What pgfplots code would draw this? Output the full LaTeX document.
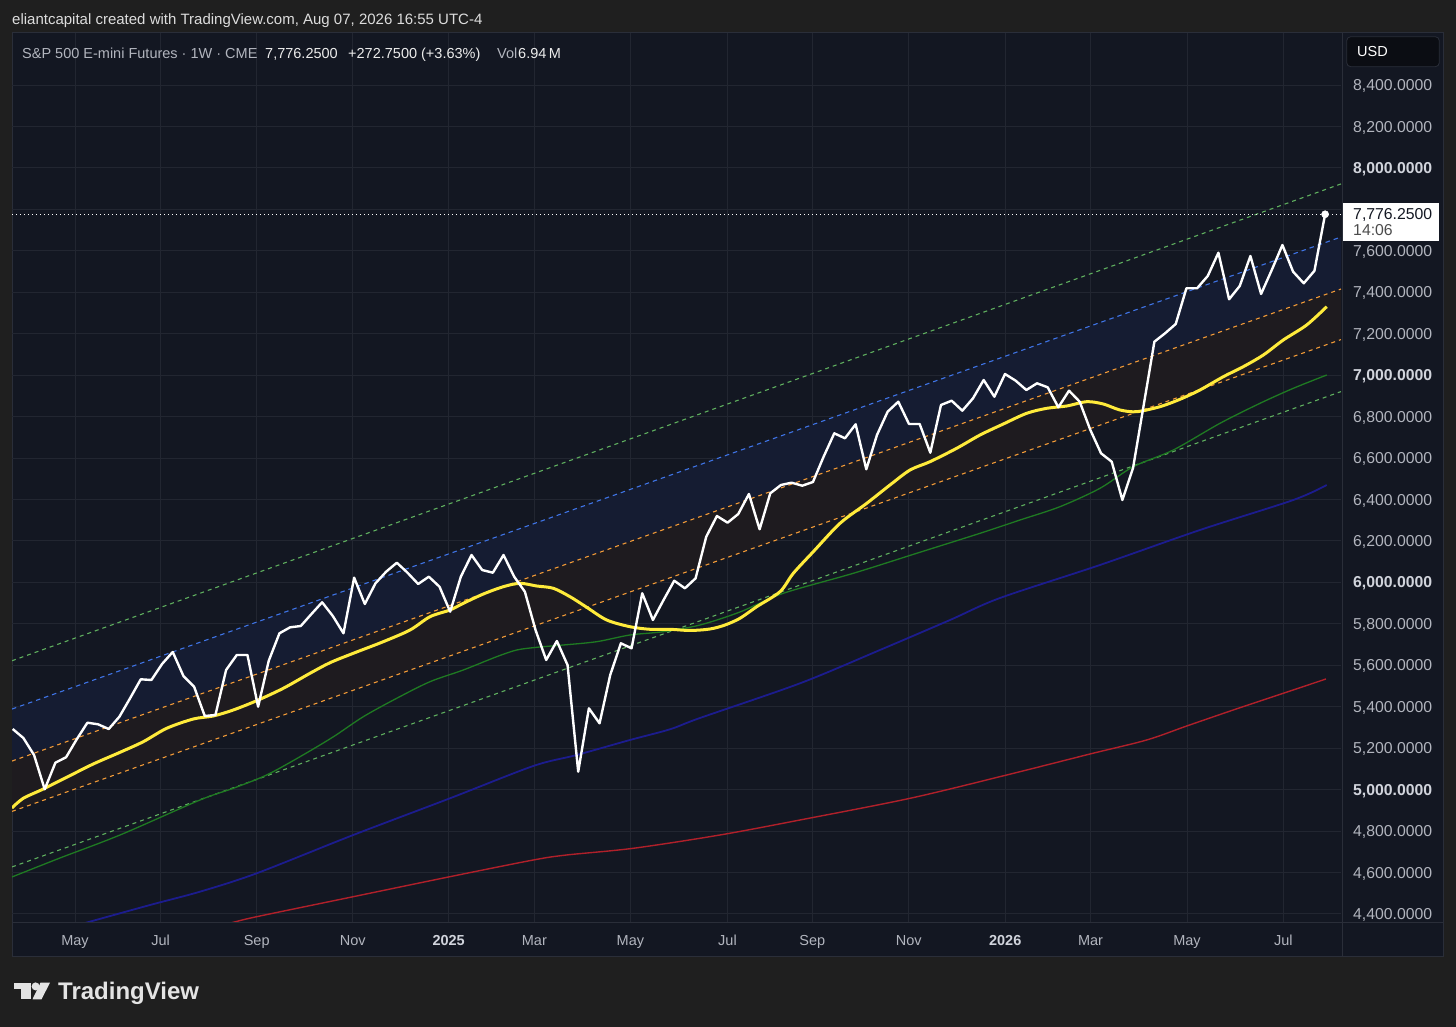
\documentclass[border=0pt]{standalone}
\usepackage{pgfplots}
\pgfplotsset{compat=1.18}
\usepackage{pgfplotstable}
\usepackage{fontspec}
\setmainfont{Liberation Sans}
\definecolor{outerbg}{HTML}{1F1F1F}
\definecolor{panel}{HTML}{131722}
\definecolor{sep}{HTML}{2A2E39}
\definecolor{gridc}{HTML}{222631}
\definecolor{txt}{HTML}{B2B5BE}
\definecolor{txtb}{HTML}{D1D4DC}
\definecolor{hdr}{HTML}{DDDDDD}
\definecolor{valc}{HTML}{ECECEC}
\definecolor{bluefill}{HTML}{151C32}
\definecolor{orfill}{HTML}{1E1B1F}
\definecolor{gdash}{HTML}{5FAF5F}
\definecolor{bdash}{HTML}{3F74E6}
\definecolor{odash}{HTML}{F29B38}
\definecolor{maA}{HTML}{FFEB3B}
\definecolor{maB}{HTML}{1F7A22}
\definecolor{maC}{HTML}{1C1C8E}
\definecolor{maD}{HTML}{B0202A}
\definecolor{logo}{HTML}{E4E4E4}
\definecolor{usdbg}{HTML}{0B0D13}

\pgfplotstableread{
i v
0 5292.6
1 5249.2
2 5167.2
3 5001.7
4 5130.0
5 5156.1
6 5242.9
7 5323.0
8 5315.3
9 5292.6
10 5352.0
11 5440.8
12 5532.4
13 5529.1
14 5606.3
15 5664.2
16 5548.4
17 5496.7
18 5355.4
19 5360.2
20 5577.3
21 5649.7
22 5649.7
23 5400.2
24 5622.2
25 5754.4
26 5783.3
27 5789.6
28 5847.5
29 5904.0
30 5837.9
31 5754.4
32 6022.7
33 5895.8
34 5995.6
35 6051.6
36 6095.0
37 6046.8
38 5992.3
39 6027.5
40 5979.2
41 5858.6
42 6027.5
43 6132.2
44 6059.8
45 6046.8
46 6132.2
47 6027.5
48 5955.1
49 5770.3
50 5625.6
51 5717.2
52 5601.4
53 5086.6
54 5392.5
55 5320.1
56 5553.2
57 5706.1
58 5682.0
59 5947.4
60 5818.6
61 5915.1
62 6008.2
63 5971.5
64 6019.8
65 6220.5
66 6320.4
67 6288.1
68 6330.0
69 6426.5
70 6256.2
71 6429.9
72 6470.0
73 6481.1
74 6466.6
75 6484.4
76 6606.5
77 6719.4
78 6695.3
79 6762.8
80 6545.7
81 6711.2
82 6823.6
83 6871.9
84 6764.3
85 6764.3
86 6625.8
87 6856.0
88 6876.7
89 6828.5
90 6888.3
91 6976.6
92 6896.0
93 7005.5
94 6973.2
95 6928.3
96 6960.7
97 6941.4
98 6844.9
99 6925.0
100 6871.9
101 6735.3
102 6622.9
103 6582.4
104 6397.6
105 6552.0
106 6856.0
107 7161.4
108 7201.9
109 7246.8
110 7419.1
111 7419.1
112 7478.4
113 7590.8
114 7366.0
115 7430.2
116 7574.9
117 7391.6
118 7507.4
119 7628.0
120 7499.2
121 7443.2
122 7503.5
123 7776.25
}\price

\pgfplotstableread{
i v
-0.07 4911.5
0.99 4958.2
2.81 5001.7
5.06 5059.6
7.55 5123.8
10.06 5180.2
12.24 5231.4
14.43 5296.0
16.93 5340.9
18.80 5355.4
20.67 5384.3
22.87 5429.2
25.36 5489.0
27.86 5561.4
29.74 5612.5
31.92 5657.9
34.73 5713.9
37.24 5770.3
39.11 5834.5
40.98 5866.8
42.23 5899.1
44.11 5944.0
45.98 5979.2
47.54 5995.6
49.11 5982.6
50.67 5971.5
52.23 5931.0
53.80 5879.8
55.67 5818.6
57.85 5786.2
59.73 5773.7
61.60 5773.7
63.48 5767.9
65.35 5775.1
66.76 5794.4
68.16 5826.8
69.73 5882.7
71.91 5955.1
73.16 6043.9
75.03 6148.1
77.54 6285.2
80.04 6381.6
82.22 6470.0
84.10 6542.3
85.97 6582.4
88.47 6647.0
90.66 6711.2
92.84 6764.3
95.03 6815.9
96.91 6840.0
98.78 6851.1
100.66 6871.9
102.21 6860.8
103.78 6831.8
105.34 6823.6
107.52 6847.8
109.40 6883.5
111.27 6928.3
113.46 6992.5
115.33 7040.8
117.21 7097.2
119.08 7169.6
121.27 7242.0
123.15 7330.3
}\maA

\pgfplotstableread{
i v
-0.07 4578.5
4.43 4670.2
10.06 4781.2
17.55 4950.0
20.67 5006.5
23.80 5070.7
26.93 5159.0
30.02 5254.0
32.86 5352.0
35.99 5440.8
39.11 5520.9
42.23 5577.3
45.36 5641.5
47.24 5673.8
49.11 5686.8
51.60 5697.9
54.73 5713.9
57.85 5746.2
60.97 5762.1
64.41 5794.4
68.16 5857.2
72.22 5947.4
78.78 6043.9
84.72 6140.4
90.66 6236.9
94.41 6301.1
98.15 6365.3
101.90 6454.0
105.02 6558.3
108.77 6638.8
113.15 6767.7
116.90 6864.2
120.02 6936.5
123.15 7000.7
}\maB

\pgfplotstableread{
i v
4.43 4322.8
6.79 4356.6
12.87 4443.4
17.55 4507.6
22.87 4596.4
31.92 4781.2
40.98 4958.2
48.79 5114.1
52.86 5167.2
57.85 5239.6
61.60 5291.2
64.41 5345.7
73.79 5513.1
81.28 5673.8
87.85 5818.6
92.53 5924.7
101.90 6084.0
111.27 6252.8
120.02 6397.6
123.15 6470.0
}\maC

\pgfplotstableread{
i v
17.55 4322.8
20.52 4358.0
22.87 4387.0
31.92 4483.5
40.98 4580.0
48.79 4660.5
51.92 4684.7
58.16 4717.0
66.29 4781.2
73.79 4853.6
84.10 4958.2
93.16 5070.7
100.97 5172.0
106.28 5239.6
110.03 5307.1
114.39 5384.3
119.08 5464.9
123.08 5533.9
}\maD

\begin{document}
\begin{tikzpicture}[x=1pt,y=1pt]
\fill[outerbg] (0,0) rectangle (1456,1027);
\filldraw[fill=panel, draw=sep, line width=1pt] (12,70.3) rectangle (1443,994);
\begin{axis}[
  at={(12pt,104.3pt)}, anchor=south west,
  scale only axis, width=1329pt, height=889.7pt,
  xmin=-0.066, xmax=124.49, ymin=4358, ymax=8651,
  axis line style={draw=none},
  tick style={draw=none}, major tick length=0pt,
  grid=major, major grid style={gridc, line width=1pt},
  xtick={5.84,13.87,22.87,31.87,40.86,48.89,57.89,66.99,74.94,83.98,93.02,101.02,110.06,119.09},
  xticklabels={May,Jul,Sep,Nov,{\textbf{\color{txtb}2025}},Mar,May,Jul,Sep,Nov,{\textbf{\color{txtb}2026}},Mar,May,Jul},
  xticklabel style={font=\fontsize{14.5}{17}\selectfont, text=txt, anchor=base, inner sep=0pt, yshift=-22.8pt},
  ytick={4400,4600,...,8400},
  yticklabels={{4,400.0000},{4,600.0000},{4,800.0000},{\textbf{\color{txtb}5,000.0000}},{5,200.0000},{5,400.0000},{5,600.0000},{5,800.0000},{\textbf{\color{txtb}6,000.0000}},{6,200.0000},{6,400.0000},{6,600.0000},{6,800.0000},{\textbf{\color{txtb}7,000.0000}},{7,200.0000},{7,400.0000},{7,600.0000},{},{\textbf{\color{txtb}8,000.0000}},{8,200.0000},{8,400.0000}},
  yticklabel pos=right,
  yticklabel style={font=\fontsize{15.8}{18}\selectfont, text=txt, anchor=base west, inner sep=0pt, xshift=12pt, yshift=-5.6pt},
]
% channel fills
\addplot[fill=bluefill, draw=none] coordinates {(-0.066,5389) (124.49,7666.7) (124.49,7415.7) (-0.066,5138)} -- cycle;
\addplot[fill=orfill, draw=none] coordinates {(-0.066,5138) (124.49,7415.7) (124.49,7171.7) (-0.066,4895)} -- cycle;
% channel lines
\addplot[gdash, line width=1.1pt, dash pattern=on 4pt off 4pt] coordinates {(-0.066,5622) (124.49,7922.7)};
\addplot[bdash, line width=1.1pt, dash pattern=on 4.5pt off 4pt] coordinates {(-0.066,5389) (124.49,7666.7)};
\addplot[odash, line width=1.1pt, dash pattern=on 4pt off 4pt] coordinates {(-0.066,5138) (124.49,7415.7)};
\addplot[odash, line width=1.1pt, dash pattern=on 4pt off 4pt] coordinates {(-0.066,4895) (124.49,7171.7)};
\addplot[gdash, line width=1.1pt, dash pattern=on 4pt off 4pt] coordinates {(-0.066,4627) (124.49,6920.7)};
% moving averages
\addplot[maD, line width=1.4pt, smooth] table[x=i,y=v] {\maD};
\addplot[maC, line width=1.8pt, smooth] table[x=i,y=v] {\maC};
\addplot[maB, line width=1.3pt, smooth] table[x=i,y=v] {\maB};
\addplot[maA, line width=3pt, smooth] table[x=i,y=v] {\maA};
% price
\addplot[white, line width=2.4pt, line join=round] table[x=i,y=v] {\price};
\addplot[white, line width=1.3pt, dash pattern=on 1.4pt off 2.6pt] coordinates {(-0.066,7776.25) (124.49,7776.25)};
\addplot[only marks, mark=*, mark size=3.6pt, white] coordinates {(123,7776.25)};
\end{axis}
\draw[sep, line width=1pt] (1342,70.3) -- (1342,994);
\draw[sep, line width=1pt] (12,104.3) -- (1443,104.3);
% header
\node[anchor=base west, inner sep=0pt, text=hdr, font=\fontsize{15}{18}\selectfont] at (12,1002) {eliantcapital created with TradingView.com, Aug 07, 2026 16:55 UTC-4};
% legend
\begin{scope}[every node/.style={anchor=base west, inner sep=0pt, font=\fontsize{14.5}{17}\selectfont}]
\node[text=txt] at (22,968.8) {S\&P 500 E-mini Futures · 1W · CME};
\node[text=valc] at (265,968.8) {7,776.2500};
\node[text=valc] at (348,968.8) {+272.7500 (+3.63\%)};
\node[text=txt] at (497,968.8) {Vol};
\node[text=valc] at (518,968.8) {6.94\,M};
\end{scope}
% USD box
\filldraw[fill=usdbg, draw=sep, line width=0.8pt, rounded corners=4pt] (1346.7,990.3) rectangle (1439.3,960.3);
\node[anchor=base west, inner sep=0pt, text=white, font=\fontsize{14.5}{17}\selectfont] at (1357,970) {USD};
% last price label
\fill[white] (1343.3,823.7) rectangle (1439.3,786.3);
\node[anchor=base west, inner sep=0pt, text=panel, font=\fontsize{15.8}{18}\selectfont] at (1353,807.5) {7,776.2500};
\node[anchor=base west, inner sep=0pt, text={black!70}, font=\fontsize{15.8}{18}\selectfont] at (1353,791.5) {14:06};
% logo
\fill[logo] (13.5,44.3) rectangle (31.3,37.5);
\fill[logo] (21,44.3) rectangle (31.3,27.7);
\fill[logo] (35.6,40.6) circle (4);
\fill[logo] (40.5,44.3) -- (50,44.3) -- (41.5,27.7) -- (32.5,27.7) -- cycle;
\node[anchor=base west, inner sep=0pt, text=logo, font=\fontsize{24}{28}\selectfont\bfseries] at (58,27.7) {TradingView};
\end{tikzpicture}
\end{document}
